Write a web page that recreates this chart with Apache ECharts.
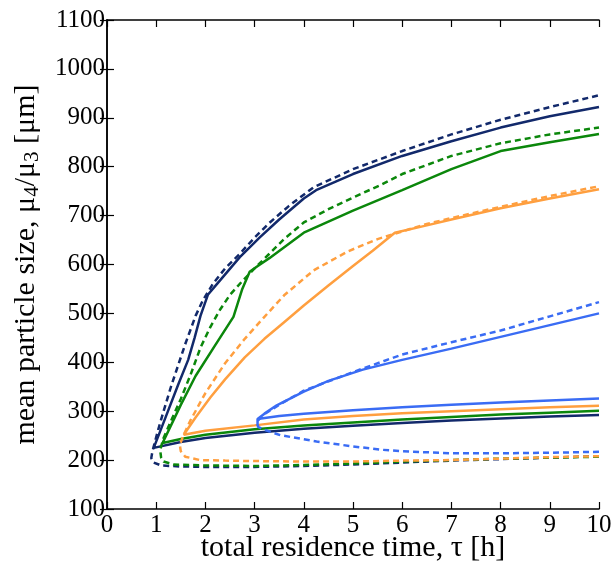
<!DOCTYPE html>
<html>
<head>
<meta charset="utf-8">
<script src="https://cdn.jsdelivr.net/npm/echarts@6/dist/echarts.min.js"></script>
<style>
html,body{margin:0;padding:0;background:#fff;}
#chart{width:613px;height:564px;}
</style>
</head>
<body>
<div id="chart"></div>
<script>
// tick labels
const xTicks = [0,1,2,3,4,5,6,7,8,9,10];
const yTicks = [100,200,300,400,500,600,700,800,900,1000,1100];

// each curve: [tau, size] pairs, lower branch (from tau=10 back to turning point) then upper branch
const navySolid = [[10,292],[9,289],[8,285],[7,281],[6,276],[5,270],[4,264],[3,256],[2,245],[1.5,237],[0.95,225],
  [1.2,290],[1.45,355],[1.65,405],[1.78,450],[1.9,495],[2.05,538],[2.25,562],[2.7,615],[3.1,655],[3.5,692],[4.0,735],[4.25,752],[5,785],[6,822],[7,852],[8,880],[9,903],[10,922]];
const navyDashed = [[10,208],[9,205],[8,202],[7,199],[6,195],[5,191],[4,188],[3,186],[2,186],[1.5,187],[1.1,189],[0.95,195],[0.9,204],[0.92,216],[0.96,232],
  [1.04,262],[1.15,300],[1.3,350],[1.45,395],[1.6,440],[1.8,495],[1.95,527],[2.15,560],[2.4,592],[2.7,622],[3.0,655],[3.3,685],[3.7,720],[4.2,758],[5,795],[6,832],[7,866],[8,896],[9,922],[10,946]];
const greenSolid = [[10,301],[9,297],[8,293],[7,288],[6,283],[5,277],[4,271],[3,263],[2,252],[1.5,243],[1.13,235],
  [1.5,313],[1.8,372],[2.2,435],[2.57,493],[2.75,550],[2.9,585],[3.05,596],[3.3,613],[4,665],[5,710],[6,752],[7,795],[8,832],[9,850],[10,867]];
const greenDashed = [[10,207],[9,205],[8,203],[7,200],[6,197],[5,193],[4,190],[3,188],[2,189],[1.35,191],[1.15,197],[1.1,205],[1.08,221],
  [1.15,245],[1.3,280],[1.5,325],[1.7,375],[1.9,430],[2.1,472],[2.3,508],[2.5,538],[2.75,566],[3.0,592],[3.3,622],[3.6,652],[4,686],[4.5,713],[5,737],[5.55,762],[6,785],[7,822],[8,848],[9,866],[10,880]];
const orangeSolid = [[10,311],[9,308],[8,304],[7,300],[6,296],[5,290],[4,283],[3,271],[2,260],[1.56,252],
  [1.8,287],[2.1,328],[2.4,365],[2.8,410],[3.2,448],[3.6,482],[4.0,516],[4.5,557],[5.0,597],[5.4,628],[5.85,665],[6.5,680],[7,692],[8,715],[9,735],[10,754]];
const orangeDashed = [[10,208],[9,206],[8,203],[7,200],[6,199],[5,197],[4,197],[3,198],[2.4,199],[1.89,200],[1.59,207],[1.5,218],[1.48,231],
  [1.55,250],[1.7,282],[2.0,337],[2.4,398],[2.8,448],[3.2,493],[3.6,537],[4.2,588],[4.9,627],[5.5,652],[5.85,663],[6.5,683],[7,695],[8,718],[9,740],[10,760]];
const blueSolid = [[10,326],[9,322],[8,318],[7,313],[6,308],[5,302],[4,295],[3.5,290],[3.06,284],[3.06,270],[3.06,284],
  [3.2,295],[3.45,312],[4.0,340],[4.5,362],[5.2,385],[6,405],[7,428],[8,452],[9,476],[10,500]];
const blueDashed = [[10,217],[9,215],[8,214],[7,214],[6,218],[5.6,221],[5,228],[4.26,238],[3.52,251],[3.2,262],[3.07,268],[3.06,280],
  [3.2,294],[3.5,313],[4,342],[5,380],[6,416],[7,441],[8,465],[9,494],[10,523]];

const curves = [
  {data: navySolid, color: '#12296b', dash: false},
  {data: navyDashed, color: '#12296b', dash: true},
  {data: greenSolid, color: '#0b870b', dash: false},
  {data: greenDashed, color: '#0b870b', dash: true},
  {data: orangeSolid, color: '#ff9f3f', dash: false},
  {data: orangeDashed, color: '#ff9f3f', dash: true},
  {data: blueSolid, color: '#3a6cf4', dash: false},
  {data: blueDashed, color: '#3a6cf4', dash: true}
];

const font = 'Liberation Serif';
const chart = echarts.init(document.getElementById('chart'), null, {renderer: 'canvas'});
const baseAxis = {
  axisLine: {show: true, lineStyle: {color: '#000', width: 1.5}},
  axisTick: {show: true, inside: true, length: 7, lineStyle: {color: '#000', width: 1.2}},
  splitLine: {show: false}
};
chart.setOption({
  animation: false,
  backgroundColor: '#fff',
  grid: {left: 107, right: 14, top: 20, bottom: 55, containLabel: false, outerBoundsMode: 'none'},
  xAxis: [
    Object.assign({}, baseAxis, {
      type: 'value', min: xTicks[0], max: xTicks[xTicks.length-1], interval: 1, position: 'bottom',
      axisLabel: {show: true, fontFamily: font, fontSize: 25, color: '#000', margin: 4, formatter: v => String(v)},
      name: 'total residence time, τ [h]', nameLocation: 'middle', nameGap: 24, nameMoveOverlap: false,
      nameTextStyle: {fontFamily: font, fontSize: 30, color: '#000'}
    }),
    Object.assign({}, baseAxis, {
      type: 'value', min: xTicks[0], max: xTicks[xTicks.length-1], interval: 1, position: 'top',
      axisLabel: {show: false}
    })
  ],
  yAxis: [
    Object.assign({}, baseAxis, {
      type: 'value', min: yTicks[0], max: yTicks[yTicks.length-1], interval: 100, position: 'left',
      axisLabel: {show: true, fontFamily: font, fontSize: 25, color: '#000', margin: 2, formatter: v => String(v)},
      name: 'mean particle size, μ{sub|4}/μ{sub|3} [μm]', nameLocation: 'middle', nameGap: 64, nameMoveOverlap: false,
      nameTextStyle: {fontFamily: font, fontSize: 30, color: '#000',
        rich: {sub: {fontFamily: font, fontSize: 21, color: '#000', verticalAlign: 'bottom', padding: [12, 0, 0, 0]}}}
    }),
    Object.assign({}, baseAxis, {
      type: 'value', min: yTicks[0], max: yTicks[yTicks.length-1], interval: 100, position: 'right',
      axisLabel: {show: false}
    })
  ],
  series: curves.map(c => ({
    type: 'line',
    data: c.data,
    showSymbol: false,
    symbol: 'none',
    smooth: false,
    clip: true,
    lineStyle: {color: c.color, width: 2.5, type: c.dash ? [6, 4] : 'solid'}
  }))
});
</script>
</body>
</html>
